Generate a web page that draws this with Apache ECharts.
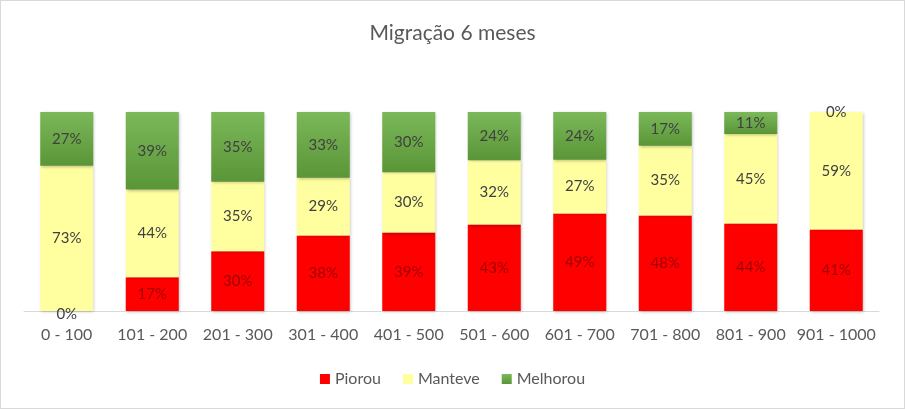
<!DOCTYPE html>
<html>
<head>
<meta charset="utf-8">
<script src="https://cdn.jsdelivr.net/npm/echarts@6/dist/echarts.min.js"></script>
<style>
  html, body { margin: 0; padding: 0; background: #fff; }
  #chart { width: 903px; height: 407px; border: 1px solid #d9d9d9; }
</style>
</head>
<body>
<div id="chart"></div>
<script>
// faixas de score
const categories = ['0 - 100', '101 - 200', '201 - 300', '301 - 400', '401 - 500',
  '501 - 600', '601 - 700', '701 - 800', '801 - 900', '901 - 1000']
const piorou = [0, 17, 30, 38, 39, 43, 49, 48, 44, 41]
const manteve = [73, 44, 35, 29, 30, 32, 27, 35, 45, 59]
const melhorou = [27, 39, 35, 33, 30, 24, 24, 17, 11, 0]

// 100% empilhado: normaliza cada coluna pelo total
const totals = categories.map((c, i) => piorou[i] + manteve[i] + melhorou[i])
const norm = arr => arr.map((v, i) => ({ value: v / totals[i] * 100, raw: v }))

const chart = echarts.init(document.getElementById('chart'))

const labelBase = {
  show: true,
  position: 'inside',
  fontFamily: 'Lato',
  fontSize: 15,
  color: '#404040',
  formatter: p => p.data.raw + '%'
}
const shadow = { shadowBlur: 3, shadowColor: 'rgba(0,0,0,0.25)', shadowOffsetX: 1, shadowOffsetY: 1 }

// rótulo de 0% fica fora da barra vermelha, em cinza
const piorouData = norm(piorou).map(d => d.raw === 0 ? Object.assign(d, { label: { color: '#404040', offset: [0, 3] } }) : d)

chart.setOption({
  animation: false,
  title: {
    text: 'Migração 6 meses',
    left: 'center',
    top: 17,
    textStyle: { fontFamily: 'Lato', fontSize: 21, fontWeight: 'normal', color: '#595959' }
  },
  legend: {
    bottom: 16,
    left: 'center',
    itemWidth: 10,
    itemHeight: 10,
    itemGap: 22,
    icon: 'rect',
    textStyle: { fontFamily: 'Lato', fontSize: 16, color: '#595959' },
    data: ['Piorou', 'Manteve', 'Melhorou']
  },
  grid: { left: 23, right: 25, top: 111, bottom: 97 },
  xAxis: {
    type: 'category',
    data: categories,
    axisLine: { lineStyle: { color: '#d9d9d9' } },
    axisTick: { show: false },
    axisLabel: { interval: 0, fontFamily: 'Lato', fontSize: 16, color: '#595959', margin: 16 }
  },
  yAxis: {
    type: 'value',
    min: 0,
    max: 100,
    show: false,
    splitLine: { show: false }
  },
  series: [
    {
      name: 'Piorou',
      type: 'bar',
      stack: 'total',
      barWidth: '62%',
      data: piorouData,
      itemStyle: Object.assign({ color: '#ff0000' }, shadow),
      label: Object.assign({}, labelBase, { color: '#a00000' })
    },
    {
      name: 'Manteve',
      type: 'bar',
      stack: 'total',
      data: norm(manteve),
      itemStyle: Object.assign({ color: '#ffff9f' }, shadow),
      label: labelBase
    },
    {
      name: 'Melhorou',
      type: 'bar',
      stack: 'total',
      data: norm(melhorou),
      itemStyle: Object.assign({
        color: new echarts.graphic.LinearGradient(0, 0, 0, 1, [
          { offset: 0, color: '#7bb85a' },
          { offset: 1, color: '#5a9637' }
        ])
      }, shadow),
      label: labelBase
    }
  ]
})
</script>
</body>
</html>
